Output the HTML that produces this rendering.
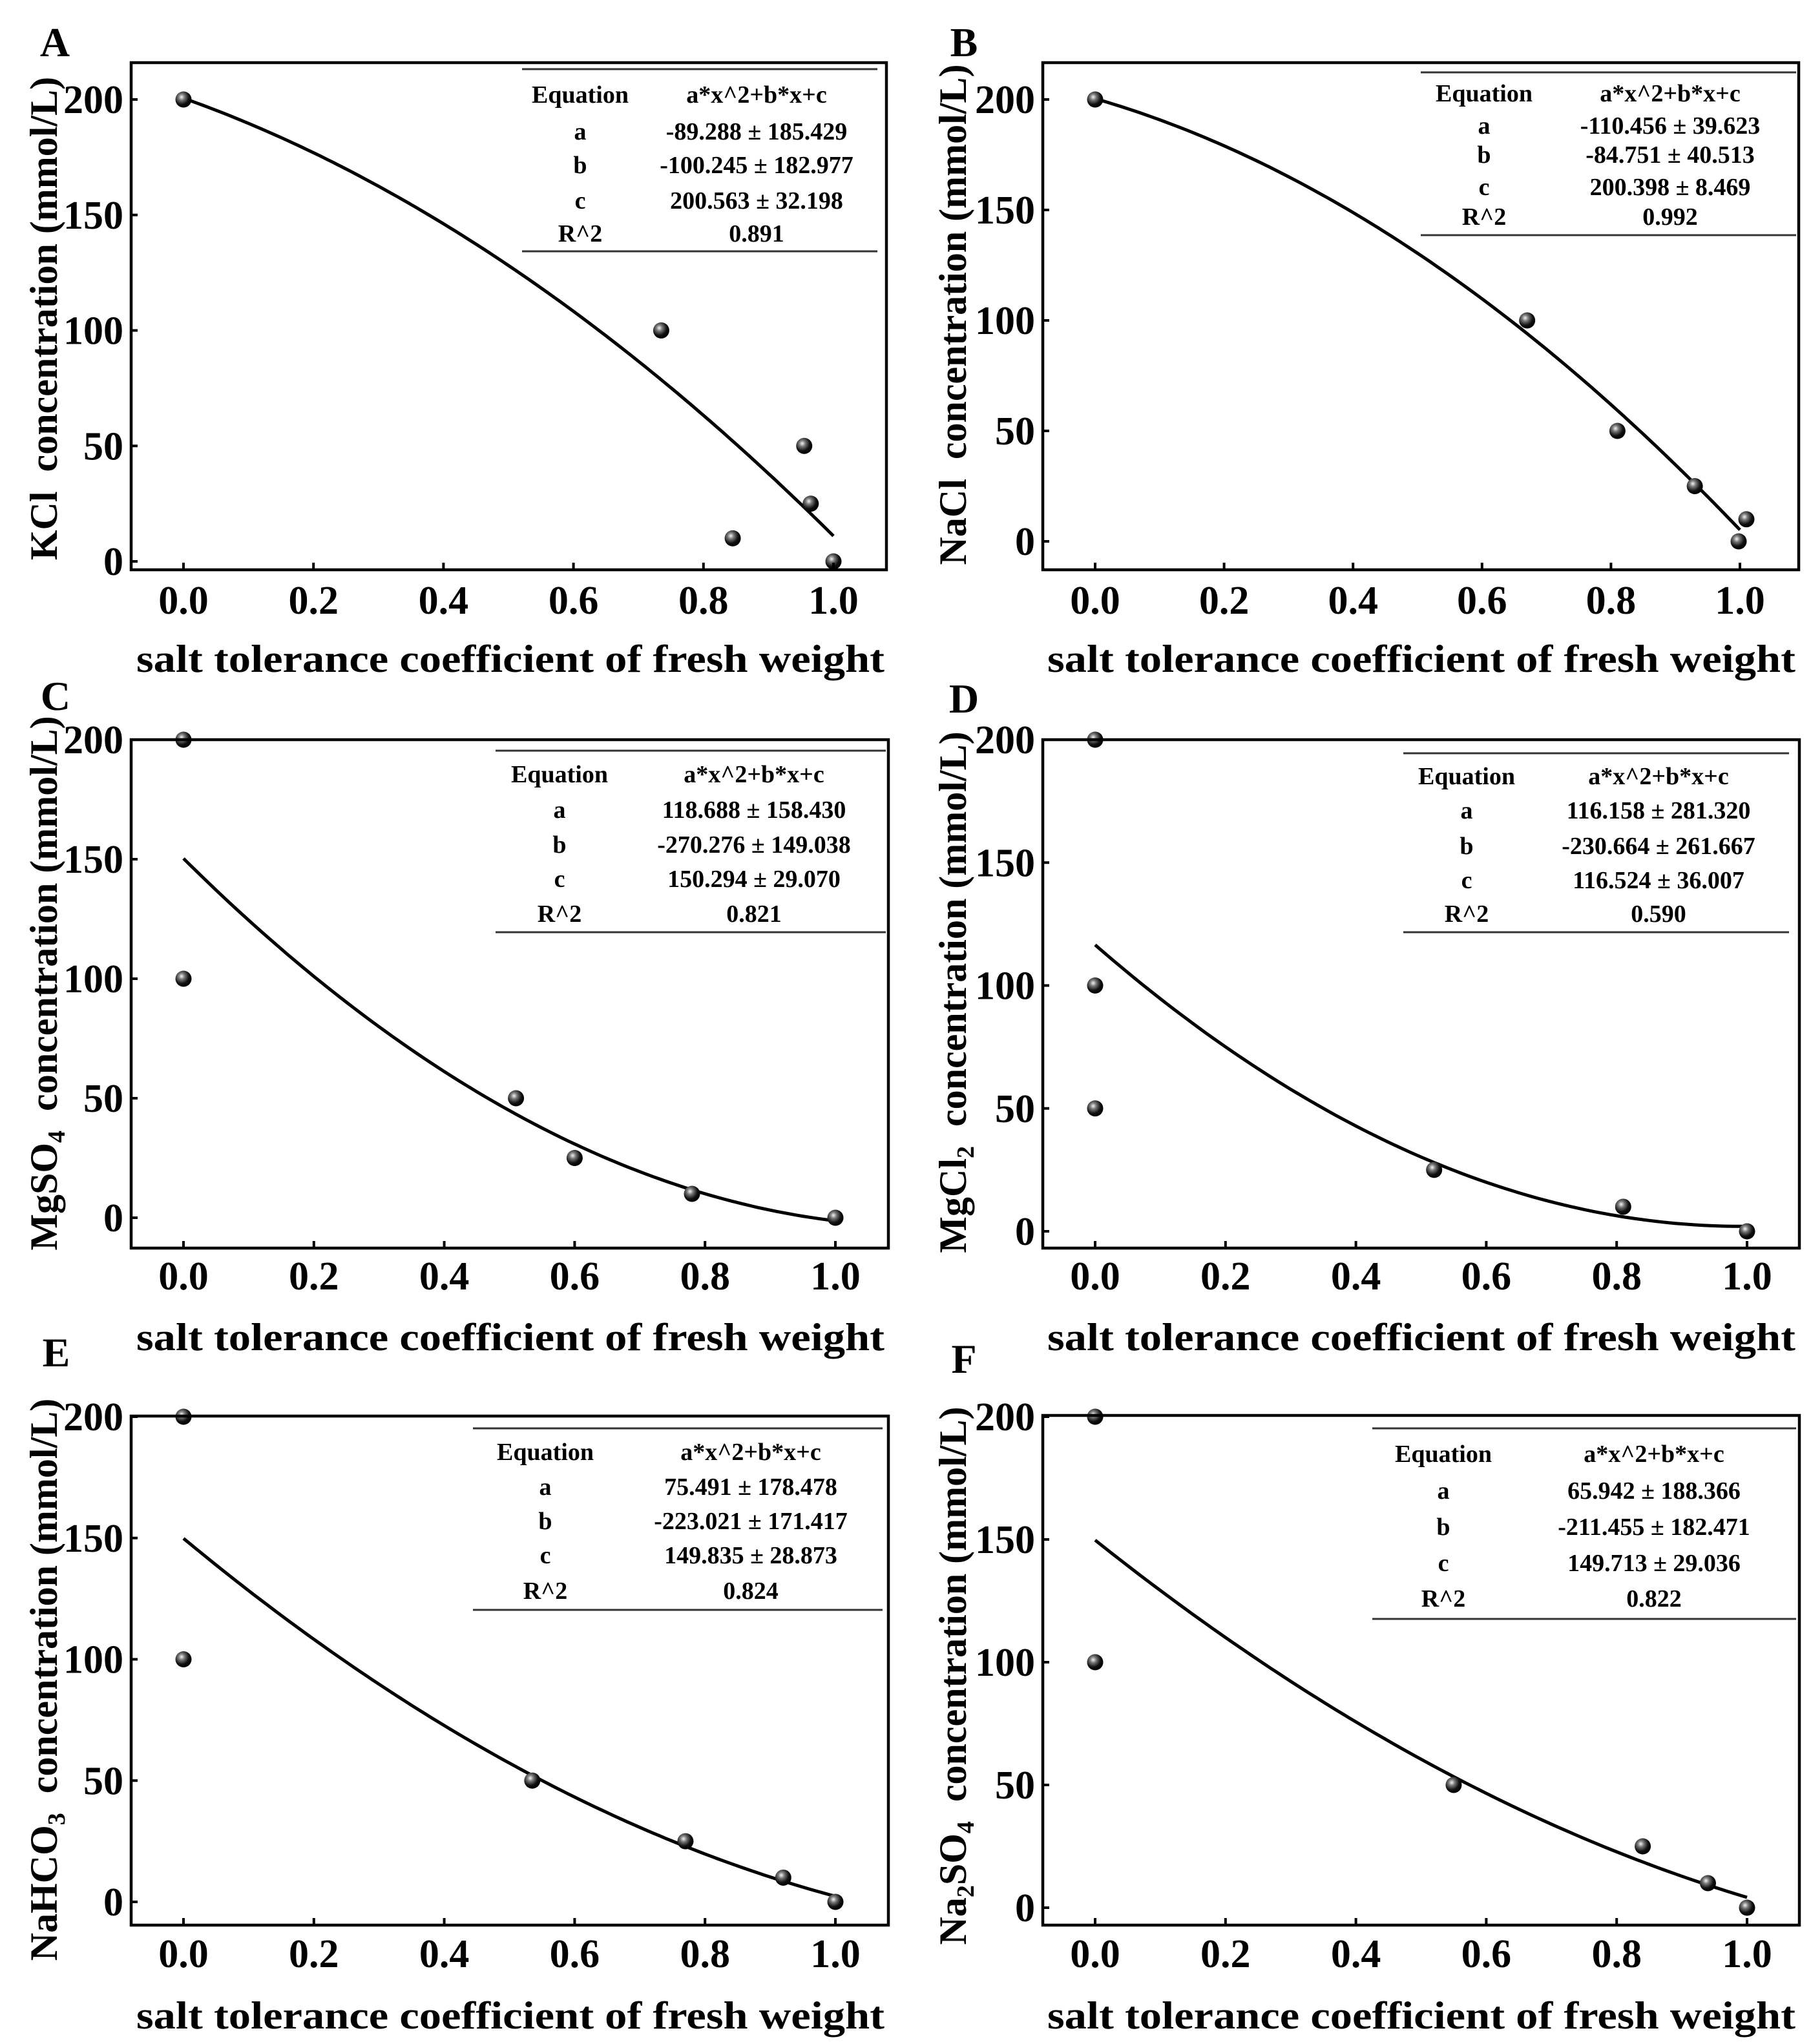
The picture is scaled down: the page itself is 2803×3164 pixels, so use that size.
<!DOCTYPE html>
<html><head><meta charset="utf-8"><style>
html,body{margin:0;padding:0;background:#fff;}
svg{display:block;}
text{font-family:"Liberation Serif",serif;font-weight:bold;fill:#000;}
</style></head>
<body>
<svg id="fig" width="2803" height="3164" viewBox="0 0 2803 3164" xmlns="http://www.w3.org/2000/svg">
<defs>
<radialGradient id="ball" cx="38%" cy="35%" r="65%">
<stop offset="0" stop-color="#f4f4f4"/><stop offset="0.3" stop-color="#777"/><stop offset="0.7" stop-color="#111"/><stop offset="1" stop-color="#000"/>
</radialGradient>
</defs>
</svg>
<script>
// ---- data ----
const xTicks = [0, 0.2, 0.4, 0.6, 0.8, 1.0];
const xTickLabels = ["0.0","0.2","0.4","0.6","0.8","1.0"];
const yTicks = [0, 50, 100, 150, 200];
const yTickLabels = ["0","50","100","150","200"];

const kclX = [0, 0.735, 0.845, 0.955, 0.965, 1.0];
const kclY = [200, 100, 10, 50, 25, 0];
const kclCoef = [-89.288, -100.245, 200.563];
const kclTable = ["-89.288 ± 185.429","-100.245 ± 182.977","200.563 ± 32.198","0.891"];

const naclX = [0, 0.67, 0.81, 0.93, 0.998, 1.01];
const naclY = [200, 100, 50, 25, 0, 10];
const naclCoef = [-110.456, -84.751, 200.398];
const naclTable = ["-110.456 ± 39.623","-84.751 ± 40.513","200.398 ± 8.469","0.992"];

const mgso4X = [0, 0, 0.51, 0.6, 0.78, 1.0];
const mgso4Y = [200, 100, 50, 25, 10, 0];
const mgso4Coef = [118.688, -270.276, 150.294];
const mgso4Table = ["118.688 ± 158.430","-270.276 ± 149.038","150.294 ± 29.070","0.821"];

const mgcl2X = [0, 0, 0, 0.52, 0.81, 1.0];
const mgcl2Y = [200, 100, 50, 25, 10, 0];
const mgcl2Coef = [116.158, -230.664, 116.524];
const mgcl2Table = ["116.158 ± 281.320","-230.664 ± 261.667","116.524 ± 36.007","0.590"];

const nahco3X = [0, 0, 0.535, 0.77, 0.92, 1.0];
const nahco3Y = [200, 100, 50, 25, 10, 0];
const nahco3Coef = [75.491, -223.021, 149.835];
const nahco3Table = ["75.491 ± 178.478","-223.021 ± 171.417","149.835 ± 28.873","0.824"];

const na2so4X = [0, 0, 0.55, 0.84, 0.94, 1.0];
const na2so4Y = [200, 100, 50, 25, 10, 0];
const na2so4Coef = [65.942, -211.455, 149.713];
const na2so4Table = ["65.942 ± 188.366","-211.455 ± 182.471","149.713 ± 29.036","0.822"];

// ---- layout ----
const panels = [
 {id:"a",letter:"A",lx:85,ly:87,f:[203,97,1372,882],x0:284,x1:1290,y0:869,y200:154,tickBase:950,titleX:790,titleY:1040,
  ytx:67,yty:493,ylabel:[["KCl  concentration (mmol/L)",""]],
  tb:[808,1358,107,389,898,1171,[146,203,255,310,361]],xs:kclX,ys:kclY,co:kclCoef,tv:kclTable},
 {id:"b",letter:"B",lx:1492,ly:87,f:[1614,97,2784,882],x0:1695,x1:2693,y0:838,y200:154,tickBase:950,titleX:2200,titleY:1040,
  ytx:1474,yty:487,ylabel:[["NaCl  concentration (mmol/L)",""]],
  tb:[2199,2780,112,364,2297,2585,[144,194,239,289,335]],xs:naclX,ys:naclY,co:naclCoef,tv:naclTable},
 {id:"c",letter:"C",lx:86,ly:1099,f:[203,1145,1375,1932],x0:284,x1:1293,y0:1885,y200:1145,tickBase:1996,titleX:790,titleY:2090,
  ytx:67,yty:1522,ylabel:[["MgSO",""],["4","sub"],["  concentration (mmol/L)",""]],
  tb:[767,1371,1162,1443,866,1167,[1198,1253,1307,1360,1414]],xs:mgso4X,ys:mgso4Y,co:mgso4Coef,tv:mgso4Table},
 {id:"d",letter:"D",lx:1492,ly:1103,f:[1614,1145,2785,1932],x0:1695,x1:2704,y0:1906,y200:1145,tickBase:1996,titleX:2200,titleY:2090,
  ytx:1474,yty:1536,ylabel:[["MgCl",""],["2","sub"],["  concentration (mmol/L)",""]],
  tb:[2172,2769,1166,1443,2270,2567,[1201,1254,1309,1362,1414]],xs:mgcl2X,ys:mgcl2Y,co:mgcl2Coef,tv:mgcl2Table},
 {id:"e",letter:"E",lx:87,ly:2115,f:[203,2192,1375,2980],x0:284,x1:1293,y0:2944,y200:2193,tickBase:3045,titleX:790,titleY:3140,
  ytx:67,yty:2600,ylabel:[["NaHCO",""],["3","sub"],["  concentration (mmol/L)",""]],
  tb:[732,1366,2211,2492,844,1162,[2247,2301,2354,2407,2462]],xs:nahco3X,ys:nahco3Y,co:nahco3Coef,tv:nahco3Table},
 {id:"f",letter:"F",lx:1492,ly:2125,f:[1614,2191,2785,2980],x0:1695,x1:2704,y0:2953,y200:2193,tickBase:3045,titleX:2200,titleY:3140,
  ytx:1474,yty:2594,ylabel:[["Na",""],["2","sub"],["SO",""],["4","sub"],["  concentration (mmol/L)",""]],
  tb:[2124,2780,2211,2506,2234,2560,[2250,2307,2363,2419,2474]],xs:na2so4X,ys:na2so4Y,co:na2so4Coef,tv:na2so4Table}
];

const NS="http://www.w3.org/2000/svg";
const svg=document.getElementById('fig');
function mk(tag,attrs,parent){const e=document.createElementNS(NS,tag);for(const k in attrs)e.setAttribute(k,attrs[k]);(parent||svg).appendChild(e);return e;}

panels.forEach(p=>{
  const g=mk('g',{});
  
  
  const sx=v=>p.x0+(p.x1-p.x0)*v;
  const sy=v=>p.y0+(p.y200-p.y0)*(v/200);
  const [l,t,r,b]=p.f;

  const letter=mk('text',{x:p.lx,y:p.ly,'font-size':64,'text-anchor':'middle'},g);
  letter.textContent=p.letter;
  
  

  // curve
  let d='';
  for(let i=0;i<=100;i++){const x=i/100;const y=p.co[0]*x*x+p.co[1]*x+p.co[2];d+=(i?'L':'M')+sx(x).toFixed(1)+','+sy(y).toFixed(1);}
  const curve=mk('path',{d:d,fill:'none',stroke:'#000','stroke-width':5},g);
  
  

  // points
  p.xs.forEach((xv,i)=>{
    const c=mk('circle',{cx:sx(xv),cy:sy(p.ys[i]),r:12.5,fill:'url(#ball)'},g);
    
    
  });

  // frame
  const fr=mk('rect',{x:l,y:t,width:r-l,height:b-t,fill:'none',stroke:'#000','stroke-width':4.5},g);
  
  

  // x ticks
  xTicks.forEach((v,i)=>{
    const tk=mk('line',{x1:sx(v),x2:sx(v),y1:b,y2:b-11,stroke:'#000','stroke-width':4},g);
    
    
    const tl=mk('text',{x:sx(v),y:p.tickBase,'font-size':62,'text-anchor':'middle'},g);
    tl.textContent=xTickLabels[i];
    
    
  });
  // y ticks
  yTicks.forEach((v,i)=>{
    const tk=mk('line',{x1:l,x2:l+10,y1:sy(v),y2:sy(v),stroke:'#000','stroke-width':4},g);
    
    
    const tl=mk('text',{x:l-12,y:sy(v)+21,'font-size':62,'text-anchor':'end'},g);
    tl.textContent=yTickLabels[i];
    
    
  });

  // x title
  const xt=mk('text',{x:p.titleX,y:p.titleY,'font-size':60,'text-anchor':'middle',textLength:1158,lengthAdjust:'spacingAndGlyphs'},g);
  xt.textContent='salt tolerance coefficient of fresh weight';
  
  

  // y title
  const yt=mk('text',{transform:'translate('+(p.ytx+21)+','+p.yty+') rotate(-90)','font-size':60,'text-anchor':'middle','xml:space':'preserve'},g);
  
  
  yt.setAttribute('style','white-space:pre');
  p.ylabel.forEach(([s,k])=>{
    const ts=mk('tspan',{},yt);
    if(k==='sub'){ts.setAttribute('font-size',38);ts.setAttribute('baseline-shift','-12');}
    ts.textContent=s;
  });

  // table
  const [tx1,tx2,ty1,ty2,c1,c2,rows]=p.tb;
  const tg=mk('g',{},g);
  
  
  mk('line',{x1:tx1,x2:tx2,y1:ty1,y2:ty1,stroke:'#333','stroke-width':3},tg);
  mk('line',{x1:tx1,x2:tx2,y1:ty2,y2:ty2,stroke:'#333','stroke-width':3},tg);
  const left=["Equation","a","b","c","R^2"];
  const right=["a*x^2+b*x+c"].concat(p.tv);
  rows.forEach((yc,i)=>{
    const a=mk('text',{x:c1,y:yc+13,'font-size':38,'text-anchor':'middle'},tg);
    a.textContent=left[i];
    
    
    const v=mk('text',{x:c2,y:yc+13,'font-size':38,'text-anchor':'middle'},tg);
    v.textContent=right[i];
    
    
  });
});
</script>
</body></html>
